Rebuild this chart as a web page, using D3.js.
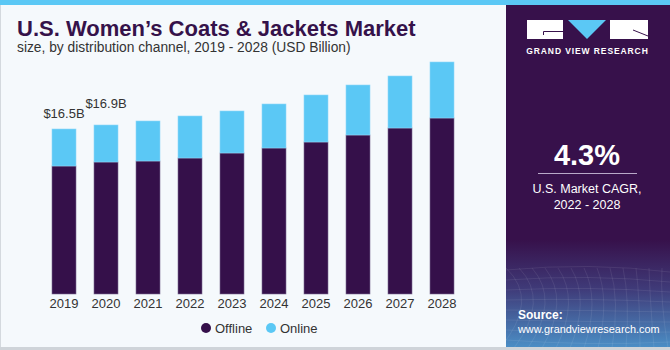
<!DOCTYPE html>
<html>
<head>
<meta charset="utf-8">
<script src="https://cdn.jsdelivr.net/npm/d3@7"></script>
<style>
  html, body { margin: 0; padding: 0; background: #fff; }
  svg { display: block; font-family: "Liberation Sans", Arial, sans-serif; }
</style>
</head>
<body>
<svg id="chart" width="670" height="350"></svg>
<script>
const years = ["2019","2020","2021","2022","2023","2024","2025","2026","2027","2028"];
const offline = [12.8, 13.2, 13.3, 13.6, 14.1, 14.6, 15.2, 15.9, 16.6, 17.6];
const online  = [3.7, 3.7, 4.0, 4.2, 4.2, 4.4, 4.7, 5.0, 5.2, 5.6];
const seriesNames = ["Offline", "Online"];
const seriesColors = ["#35104a", "#5bc8f5"];
const annotations = [{year: "2019", label: "$16.5B"}, {year: "2020", label: "$16.9B"}];
const cagrValue = "4.3%";
const cagrLines = ["U.S. Market CAGR,", "2022 - 2028"];

const svg = d3.select("#chart");
const W = 670, H = 350;

const defs = svg.append("defs");
const grad = defs.append("linearGradient").attr("id", "srcGrad")
  .attr("x1", 0).attr("y1", 0).attr("x2", 0).attr("y2", 1);
grad.append("stop").attr("offset", "0%").attr("stop-color", "#37114b");
grad.append("stop").attr("offset", "45%").attr("stop-color", "#3f3a78");
grad.append("stop").attr("offset", "100%").attr("stop-color", "#4b8fc6");

// backgrounds
svg.append("rect").attr("x", 0).attr("y", 0).attr("width", W).attr("height", H).attr("fill", "#f5f9fc");
svg.append("rect").attr("x", 0.5).attr("y", 0.5).attr("width", W - 1).attr("height", H - 2)
  .attr("fill", "none").attr("stroke", "#d4d9de").attr("stroke-width", 1);
svg.append("rect").attr("x", 506).attr("y", 0).attr("width", W - 506).attr("height", 348).attr("fill", "#37114b");
svg.append("rect").attr("x", 506).attr("y", 240).attr("width", W - 506).attr("height", 108).attr("fill", "url(#srcGrad)");
// faint grid texture in source area
const tex = svg.append("g").attr("stroke", "#ffffff").attr("stroke-opacity", 0.08).attr("fill", "none");
for (let i = 0; i < 14; i++) {
  tex.append("path").attr("d", `M${506 + i * 13},268 Q${540 + i * 10},300 ${500 + i * 14},348`);
}
for (let j = 0; j < 8; j++) {
  tex.append("path").attr("d", `M506,${270 + j * 10} Q590,${262 + j * 12} 670,${272 + j * 10}`);
}
svg.append("rect").attr("x", 0).attr("y", 0).attr("width", W).attr("height", 5).attr("fill", "#5bc8f5");
svg.append("rect").attr("x", 0).attr("y", 347).attr("width", W).attr("height", 3).attr("fill", "#cfd4d9");

// title
svg.append("text").attr("x", 17).attr("y", 35.5).attr("fill", "#35124a")
  .attr("font-size", 22).attr("font-weight", "bold").text("U.S. Women\u2019s Coats & Jackets Market");
svg.append("text").attr("x", 17).attr("y", 52).attr("fill", "#333")
  .attr("font-size", 13.8).text("size, by distribution channel, 2019 - 2028 (USD Billion)");

// scales
const x = d3.scaleBand().domain(years).range([52, 454]).paddingInner(18 / 42).paddingOuter(0);
const y = d3.scaleLinear().domain([0, 25]).range([294, 44]);

const data = years.map((yr, i) => ({year: yr, Offline: offline[i], Online: online[i]}));
const stacked = d3.stack().keys(seriesNames)(data);

const gBars = svg.append("g");
stacked.forEach((layer, li) => {
  gBars.selectAll(null).data(layer).enter().append("rect")
    .attr("x", d => x(d.data.year))
    .attr("y", d => y(d[1]))
    .attr("width", x.bandwidth())
    .attr("height", d => y(d[0]) - y(d[1]))
    .attr("fill", seriesColors[li])
    .attr("stroke", li === 0 ? "#7a6a90" : "#8fd8f8")
    .attr("stroke-width", 0.6);
});

// axis labels
const xAxis = d3.axisBottom(x).tickSize(0).tickPadding(5);
const gx = svg.append("g").attr("transform", "translate(0,294)").call(xAxis);
gx.select(".domain").remove();
gx.selectAll("text").attr("font-size", 13).attr("fill", "#333")
  .attr("font-family", "Liberation Sans, Arial, sans-serif");

// annotations (second label lifted to clear the first)
const totals = {};
years.forEach((yr, i) => totals[yr] = offline[i] + online[i]);
annotations.forEach((a, i) => {
  svg.append("text").attr("x", x(a.year) + x.bandwidth() / 2)
    .attr("y", y(totals[a.year]) - 11 - i * 6)
    .attr("text-anchor", "middle").attr("font-size", 13).attr("fill", "#333").text(a.label);
});

// legend
const legend = svg.append("g");
const legX = [206, 271];
seriesNames.forEach((s, i) => {
  legend.append("circle").attr("cx", legX[i]).attr("cy", 328).attr("r", 5).attr("fill", seriesColors[i]);
  legend.append("text").attr("x", legX[i] + 9).attr("y", 332.5).attr("font-size", 13).attr("fill", "#333").text(s);
});

// logo
const logo = svg.append("g");
logo.append("rect").attr("x", 527).attr("y", 20).attr("width", 36).attr("height", 19).attr("fill", "#fff");
logo.append("path").attr("d", "M543.5,35 V31.5 H563").attr("stroke", "#37114b").attr("stroke-width", 1).attr("fill", "none");
logo.append("path").attr("d", "M568,20 H606 L587,39 Z").attr("fill", "#5bc8f5");
logo.append("rect").attr("x", 610).attr("y", 20).attr("width", 38).attr("height", 19).attr("fill", "#fff");
logo.append("path").attr("d", "M633,30 L648,36").attr("stroke", "#37114b").attr("stroke-width", 1).attr("fill", "none");
logo.append("text").attr("x", 587.5).attr("y", 54).attr("text-anchor", "middle")
  .attr("fill", "#fff").attr("font-size", 8.5).attr("font-weight", "bold").attr("letter-spacing", 0.9)
  .text("GRAND VIEW RESEARCH");

// CAGR
svg.append("text").attr("x", 587).attr("y", 165).attr("text-anchor", "middle")
  .attr("fill", "#fff").attr("font-size", 29).attr("font-weight", "bold").text(cagrValue);
svg.append("line").attr("x1", 538).attr("x2", 637).attr("y1", 173.5).attr("y2", 173.5)
  .attr("stroke", "#b9a9c9").attr("stroke-width", 1);
cagrLines.forEach((t, i) => {
  svg.append("text").attr("x", 587).attr("y", 193 + i * 16).attr("text-anchor", "middle")
    .attr("fill", "#fff").attr("font-size", 12.5).text(t);
});

// source
svg.append("text").attr("x", 518).attr("y", 319).attr("fill", "#fff")
  .attr("font-size", 12).attr("font-weight", "bold").text("Source:");
svg.append("text").attr("x", 518).attr("y", 333).attr("fill", "#fff")
  .attr("font-size", 10.9).text("www.grandviewresearch.com");
</script>
</body>
</html>
